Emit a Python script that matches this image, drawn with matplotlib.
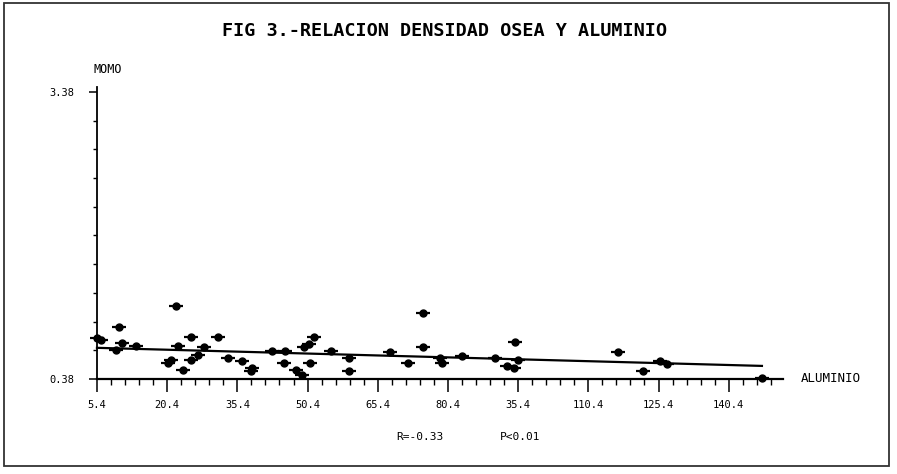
import matplotlib
matplotlib.use('Agg')
import matplotlib.pyplot as plt
from matplotlib.patches import Rectangle
from matplotlib.ticker import FixedLocator
import numpy as np

# values
aluminio = [5.4, 6.25, 10.04, 9.46, 10.74, 13.73, 22.28, 22.71, 21.14, 20.57,
            23.77, 25.48, 25.48, 26.98, 28.26, 31.25, 33.39, 36.38, 38.51, 38.23,
            42.72, 45.56, 45.41, 47.85, 49.13, 49.69, 50.69, 51.82, 50.90, 55.33,
            59.30, 59.30, 68.0, 71.78, 74.98, 74.98, 78.67, 79.04, 83.31, 90.42,
            92.92, 94.48, 94.70, 95.40, 116.76, 121.98, 125.67, 127.23, 147.53]
momo = [0.808, 0.787, 0.926, 0.683, 0.756, 0.725, 1.146, 0.728, 0.579, 0.547,
        0.474, 0.822, 0.579, 0.631, 0.718, 0.822, 0.603, 0.571, 0.495, 0.464,
        0.673, 0.673, 0.544, 0.474, 0.422, 0.718, 0.743, 0.822, 0.544, 0.673,
        0.596, 0.467, 0.665, 0.544, 1.067, 0.718, 0.596, 0.544, 0.623, 0.596,
        0.519, 0.498, 0.770, 0.579, 0.665, 0.464, 0.571, 0.537, 0.394]

# regression line (R=-0.33)
fit_intercept = 0.713
fit_slope = -0.00133
fit_range = [5.4, 147.5]

x_major = [5.4, 20.4, 35.4, 50.4, 65.4, 80.4, 95.4, 110.4, 125.4, 140.4]
x_labels = ['5.4', '20.4', '35.4', '50.4', '65.4', '80.4', '35.4', '110.4', '125.4', '140.4']
x_minor = [5.4 + 3 * k for k in range(49)]
y_major = [0.38, 3.38]
y_labels = ['0.38', '3.38']
y_minor = [0.38 + 0.3 * k for k in range(11)]

mono = 'DejaVu Sans Mono'

fig = plt.figure(figsize=(8.97, 4.74), dpi=100)
ax = fig.add_axes([0.1081, 0.2004, 0.7648, 0.616])

fx = np.array(fit_range)
ax.plot(fx, fit_intercept + fit_slope * fx, color='black', lw=1.6, clip_on=False)
ax.plot(aluminio, momo, ls='none', marker='o', ms=5, color='black', clip_on=False)
ax.plot(aluminio, momo, ls='none', marker='_', ms=10, mew=1.6, color='black', clip_on=False)

ax.set_xlim(5.4, 152.0)
ax.set_ylim(0.38, 3.43)
for s in ['top', 'right']:
    ax.spines[s].set_visible(False)
ax.spines['left'].set_linewidth(1.3)
ax.spines['bottom'].set_linewidth(1.6)

ax.xaxis.set_major_locator(FixedLocator(x_major))
ax.xaxis.set_minor_locator(FixedLocator(x_minor))
ax.set_xticklabels(x_labels, family=mono, fontsize=7.5)
ax.yaxis.set_major_locator(FixedLocator(y_major))
ax.yaxis.set_minor_locator(FixedLocator(y_minor))
ax.set_yticklabels(y_labels, family=mono, fontsize=7.5)
ax.tick_params(axis='x', which='major', length=9, width=1.1, pad=6, direction='out')
ax.tick_params(axis='x', which='minor', length=4, width=1.0, direction='out')
ax.tick_params(axis='y', which='major', length=6, width=1.1, pad=10, direction='out')
ax.tick_params(axis='y', which='minor', length=3, width=1.0, direction='out')

fig.text(0.495, 0.935, 'FIG 3.-RELACION DENSIDAD OSEA Y ALUMINIO', family=mono,
         fontsize=13.3, fontweight='bold', ha='center', va='center')
fig.text(0.120, 0.854, 'MOMO', family=mono, fontsize=8.5, ha='center', va='center')
fig.text(0.893, 0.2025, 'ALUMINIO', family=mono, fontsize=9, ha='left', va='center')
fig.text(0.4415, 0.078, 'R=-0.33', family=mono, fontsize=8, ha='left', va='center')
fig.text(0.557, 0.078, 'P<0.01', family=mono, fontsize=8, ha='left', va='center')

# frame round the whole figure
fig.patches.append(Rectangle((4 / 897, 8 / 474), 885 / 897, 463 / 474,
                             transform=fig.transFigure, fill=False,
                             edgecolor='#333333', lw=1.3))

fig.savefig('out.png', dpi=100)
